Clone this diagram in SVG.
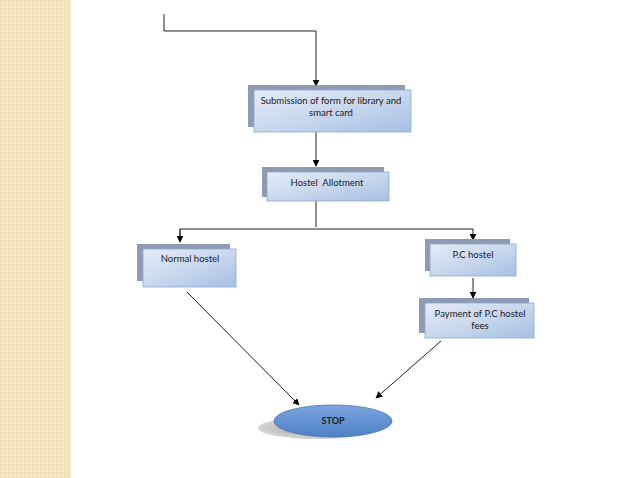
<svg xmlns="http://www.w3.org/2000/svg" width="638" height="478" viewBox="0 0 638 478">
<defs>
<pattern id="dots" width="4" height="4" patternUnits="userSpaceOnUse">
<rect width="4" height="4" fill="#f6e7c3"/>
<rect x="0" y="0" width="2" height="2" fill="#efdcb0"/>
</pattern>
<linearGradient id="edge" x1="0" x2="1" y1="0" y2="0">
<stop offset="0" stop-color="#e6d3a8"/>
<stop offset="1" stop-color="#fdfbf6"/>
</linearGradient>
<linearGradient id="boxg" x1="0" y1="0" x2="1" y2="1">
<stop offset="0" stop-color="#e4ecf7"/>
<stop offset="0.5" stop-color="#c9d8ee"/>
<stop offset="1" stop-color="#a6bfe2"/>
</linearGradient>
<linearGradient id="ellg" x1="0" y1="0" x2="0" y2="1">
<stop offset="0" stop-color="#7aa5de"/>
<stop offset="1" stop-color="#4f80c6"/>
</linearGradient>
<radialGradient id="shadowg" cx="0.5" cy="0.5" r="0.5">
<stop offset="0" stop-color="#8f8f8f"/>
<stop offset="1" stop-color="#b8b8b8" stop-opacity="0.6"/>
</radialGradient>
<marker id="arr" viewBox="0 0 10 10" refX="9" refY="5" markerWidth="7" markerHeight="7" orient="auto" markerUnits="userSpaceOnUse">
<path d="M0,0 L10,5 L0,10 z" fill="#000"/>
</marker>
</defs>
<style>
.sh{fill:#8e9bb3;}
.bx{fill:url(#boxg);stroke:#8ea9cf;stroke-width:0.8;}
.t{font-family:Lato,"Liberation Sans",Arial,sans-serif;font-size:9.5px;fill:#1a1a1a;text-anchor:middle;}
.c{fill:none;stroke:#222;stroke-width:1;}
</style>
<rect x="0" y="0" width="638" height="478" fill="#ffffff"/>
<rect x="0" y="0" width="68" height="478" fill="url(#dots)"/>
<rect x="68" y="0" width="4" height="478" fill="url(#edge)"/>

<g id="connectors">
<path class="c" d="M164,14 V31 H316 V86" marker-end="url(#arr)"/>
<path class="c" d="M316,132 V166" marker-end="url(#arr)"/>
<path class="c" d="M316,201 V227"/>
<path class="c" d="M180,241 V229 H473 V240" marker-end="url(#arr)"/>
<path class="c" d="M180,229 V242" marker-end="url(#arr)"/>
<path class="c" d="M473,278 V298" marker-end="url(#arr)"/>
<path class="c" d="M187,292 L299,405" marker-end="url(#arr)"/>
<path class="c" d="M441,341 L376,398" marker-end="url(#arr)"/>
</g>

<g id="submission">
<rect class="sh" x="248" y="85" width="157" height="42"/>
<rect class="bx" x="254" y="90" width="157" height="42"/>
<text class="t" x="331" y="104">Submission of form for library and</text>
<text class="t" x="331" y="116">smart card</text>
</g>

<g id="allotment">
<rect class="sh" x="262" y="167" width="122" height="30"/>
<rect class="bx" x="267" y="172" width="122" height="29"/>
<text class="t" x="327" y="186" xml:space="preserve">Hostel  Allotment</text>
</g>

<g id="normal">
<rect class="sh" x="137" y="244" width="93" height="37"/>
<rect class="bx" x="143" y="249" width="93" height="38"/>
<text class="t" x="190" y="262">Normal hostel</text>
</g>

<g id="pc">
<rect class="sh" x="425" y="239" width="85" height="32"/>
<rect class="bx" x="430" y="244" width="86" height="32"/>
<text class="t" x="473" y="258">P.C hostel</text>
</g>

<g id="payment">
<rect class="sh" x="419" y="298" width="110" height="35"/>
<rect class="bx" x="425" y="303" width="109" height="35"/>
<text class="t" x="480" y="317">Payment of P.C hostel</text>
<text class="t" x="480" y="329">fees</text>
</g>

<g id="stop">
<ellipse cx="318" cy="428" rx="60" ry="11" fill="url(#shadowg)"/>
<ellipse cx="333" cy="421" rx="59" ry="16" fill="url(#ellg)" stroke="#4672b2" stroke-width="0.8"/>
<text class="t" x="333" y="424" style="font-weight:bold;font-size:9px;fill:#1a1a1a">STOP</text>
</g>
</svg>
